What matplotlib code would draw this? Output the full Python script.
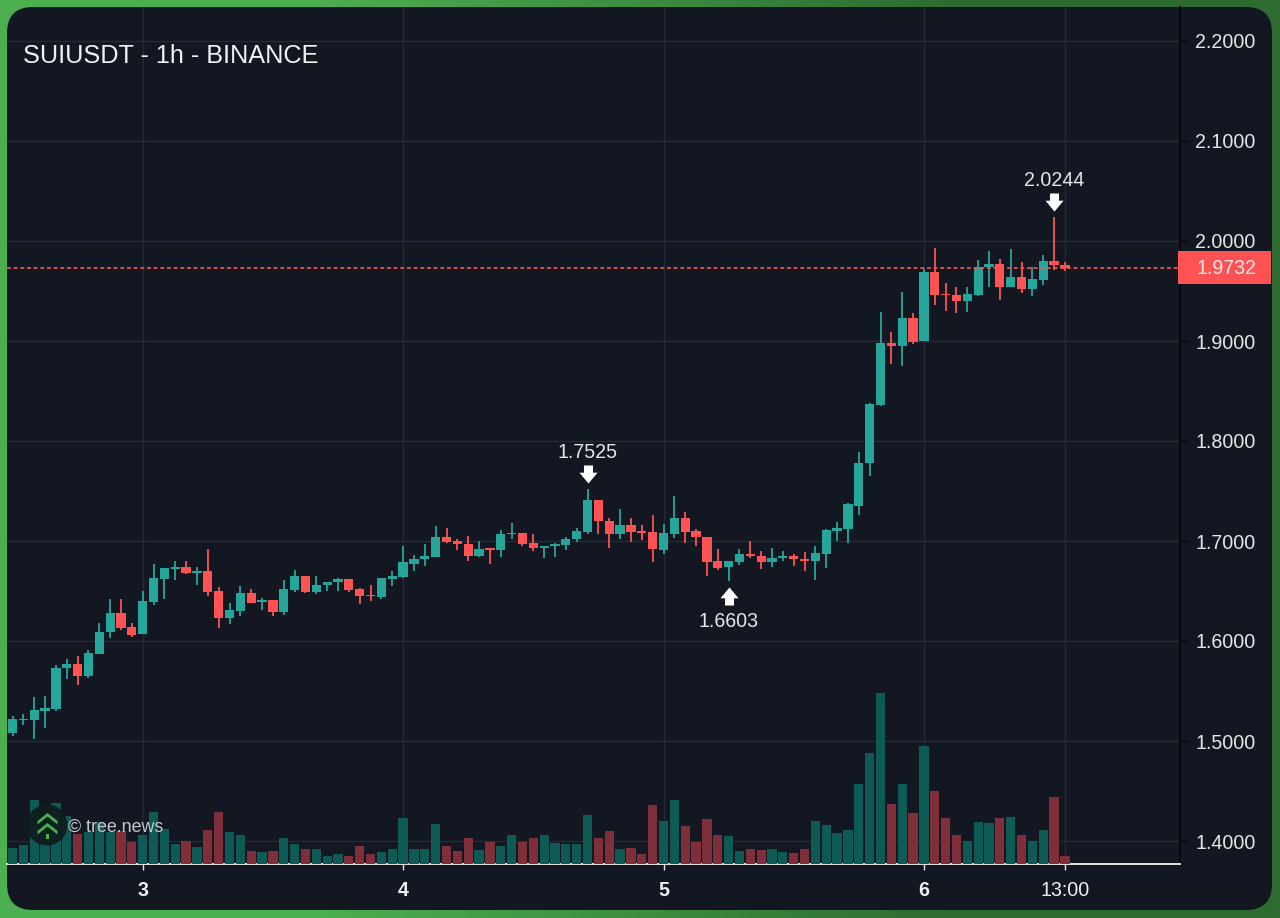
import matplotlib
matplotlib.use('Agg')
import matplotlib.pyplot as plt
from matplotlib.colors import LinearSegmentedColormap
from matplotlib.patches import FancyBboxPatch, Circle, Rectangle, Polygon
from matplotlib.path import Path
from matplotlib.transforms import offset_copy

plt.rcParams['font.family'] = ['Liberation Sans', 'DejaVu Sans']

title = 'SUIUSDT - 1h - BINANCE'
watermark = '\u00a9 tree.news'

opens = [1.5077, 1.5207, 1.5210, 1.5300, 1.5323, 1.5727, 1.5767, 1.5650, 1.5870, 1.6087,
         1.6277, 1.6140, 1.6067, 1.6393, 1.6617, 1.6717, 1.6743, 1.6683, 1.6697, 1.6500,
         1.6230, 1.6303, 1.6483, 1.6393, 1.6410, 1.6290, 1.6510, 1.6653, 1.6493, 1.6563,
         1.6587, 1.6617, 1.6520, 1.6460, 1.6443, 1.6617, 1.6643, 1.6773, 1.6820, 1.6843,
         1.7043, 1.7000, 1.6967, 1.6853, 1.6927, 1.6910, 1.7067, 1.7077, 1.6977, 1.6933,
         1.6950, 1.6960, 1.7017, 1.7087, 1.7413, 1.7203, 1.7070, 1.7160, 1.7100, 1.7087,
         1.6907, 1.7070, 1.7233, 1.7100, 1.7043, 1.6797, 1.6737, 1.6793, 1.6870, 1.6850,
         1.6793, 1.6833, 1.6853, 1.6817, 1.6800, 1.6873, 1.7100, 1.7117, 1.7353, 1.7777,
         1.8360, 1.8977, 1.8953, 1.9227, 1.9000, 1.9690, 1.9467, 1.9463, 1.9400, 1.9463,
         1.9737, 1.9767, 1.9543, 1.9643, 1.9520, 1.9613, 1.9800, 1.9760]
highs = [1.5250, 1.5267, 1.5443, 1.5450, 1.5757, 1.5817, 1.5850, 1.5910, 1.6177, 1.6417,
         1.6420, 1.6183, 1.6500, 1.6767, 1.6730, 1.6797, 1.6800, 1.6743, 1.6917, 1.6537,
         1.6383, 1.6550, 1.6520, 1.6433, 1.6410, 1.6610, 1.6710, 1.6653, 1.6653, 1.6587,
         1.6627, 1.6617, 1.6527, 1.6557, 1.6633, 1.6700, 1.6953, 1.6860, 1.6967, 1.7150,
         1.7127, 1.7017, 1.7050, 1.7000, 1.6933, 1.7110, 1.7177, 1.7077, 1.7070, 1.6950,
         1.6977, 1.7043, 1.7130, 1.7525, 1.7413, 1.7227, 1.7317, 1.7233, 1.7160, 1.7260,
         1.7170, 1.7450, 1.7287, 1.7117, 1.7043, 1.6917, 1.6800, 1.6917, 1.7003, 1.6900,
         1.6930, 1.6900, 1.6870, 1.6887, 1.6953, 1.7117, 1.7187, 1.7383, 1.7893, 1.8377,
         1.9290, 1.9087, 1.9490, 1.9277, 1.9717, 1.9933, 1.9583, 1.9543, 1.9543, 1.9810,
         1.9900, 1.9817, 1.9917, 1.9793, 1.9743, 1.9860, 2.0244, 1.9787]
lows = [1.5050, 1.5160, 1.5020, 1.5127, 1.5300, 1.5620, 1.5560, 1.5627, 1.5870, 1.6033,
        1.6110, 1.6037, 1.6067, 1.6357, 1.6420, 1.6610, 1.6667, 1.6563, 1.6453, 1.6127,
        1.6173, 1.6250, 1.6383, 1.6307, 1.6253, 1.6263, 1.6490, 1.6477, 1.6470, 1.6503,
        1.6503, 1.6493, 1.6367, 1.6403, 1.6423, 1.6553, 1.6627, 1.6703, 1.6753, 1.6837,
        1.6983, 1.6907, 1.6800, 1.6837, 1.6770, 1.6843, 1.7017, 1.6950, 1.6897, 1.6827,
        1.6843, 1.6910, 1.6993, 1.7067, 1.7067, 1.6927, 1.7020, 1.6987, 1.7013, 1.6790,
        1.6870, 1.7033, 1.6983, 1.6950, 1.6653, 1.6710, 1.6603, 1.6763, 1.6827, 1.6717,
        1.6743, 1.6803, 1.6750, 1.6697, 1.6613, 1.6733, 1.7003, 1.6977, 1.7260, 1.7650,
        1.8350, 1.8770, 1.8750, 1.8970, 1.8997, 1.9357, 1.9303, 1.9277, 1.9293, 1.9450,
        1.9537, 1.9410, 1.9543, 1.9483, 1.9453, 1.9563, 1.9710, 1.9703]
closes = [1.5217, 1.5223, 1.5307, 1.5333, 1.5733, 1.5770, 1.5653, 1.5877, 1.6090, 1.6277,
          1.6130, 1.6063, 1.6400, 1.6627, 1.6730, 1.6743, 1.6677, 1.6700, 1.6490, 1.6230,
          1.6310, 1.6483, 1.6383, 1.6410, 1.6290, 1.6517, 1.6653, 1.6493, 1.6563, 1.6587,
          1.6617, 1.6510, 1.6450, 1.6447, 1.6627, 1.6653, 1.6787, 1.6823, 1.6850, 1.7043,
          1.6993, 1.6967, 1.6853, 1.6923, 1.6910, 1.7070, 1.7083, 1.6970, 1.6933, 1.6950,
          1.6970, 1.7023, 1.7097, 1.7413, 1.7200, 1.7073, 1.7160, 1.7090, 1.7083, 1.6920,
          1.7077, 1.7233, 1.7087, 1.7037, 1.6793, 1.6733, 1.6800, 1.6870, 1.6847, 1.6793,
          1.6833, 1.6853, 1.6823, 1.6803, 1.6877, 1.7110, 1.7127, 1.7367, 1.7780, 1.8370,
          1.8977, 1.8950, 1.9230, 1.8993, 1.9690, 1.9457, 1.9457, 1.9400, 1.9473, 1.9737,
          1.9767, 1.9543, 1.9643, 1.9520, 1.9617, 1.9800, 1.9760, 1.9732]
volumes = [16, 19, 64, 45, 61, 48, 30, 32, 42, 32, 33, 22, 29, 52, 35, 20, 23, 17, 34, 52,
           32, 29, 13, 12, 13, 26, 20, 15, 15, 8, 10, 8, 18, 10, 12, 15, 46, 15, 15, 40,
           18, 13, 26, 14, 22, 18, 29, 22, 26, 29, 21, 20, 20, 49, 26, 33, 15, 16, 10, 59,
           43, 64, 38, 22, 45, 29, 28, 13, 15, 14, 15, 12, 11, 15, 43, 39, 31, 34, 80, 111,
           171, 60, 80, 51, 118, 73, 46, 29, 23, 42, 41, 46, 47, 29, 23, 34, 67, 8]

price_ticks = [2.2, 2.1, 2.0, 1.9, 1.8, 1.7, 1.6, 1.5, 1.4]
time_ticks = [12, 36, 60, 84, 97]
time_labels = ['3', '4', '5', '6', '13:00']
last_price = 1.9732
high_marks = [53, 96]
low_marks = [66]

GREEN = '#26a69a'
RED = '#ff5252'
VOL_GREEN = '#0e5a54'
VOL_RED = '#7f2f39'
PANEL = '#131722'
GRID = '#262a36'
TEXT = '#e6e6e6'

W, H = 1280, 918
fig = plt.figure(figsize=(W / 100, H / 100), dpi=100)


def px_axes(x0, y0, x1, y1):
    return fig.add_axes([x0 / W, 1 - y1 / H, (x1 - x0) / W, (y1 - y0) / H])


# page background and rounded panel
bg = fig.add_axes([0, 0, 1, 1], zorder=0)
cmap = LinearSegmentedColormap.from_list('edge', ['#4caf50', '#2e6b30'])
bg.imshow([[0, 1]], cmap=cmap, extent=(0, W, H, 0), aspect='auto', interpolation='bilinear')
bg.add_patch(FancyBboxPatch((7, 7), 1265, 903, boxstyle='round,pad=0,rounding_size=26',
                            fc=PANEL, ec='none'))
bg.set_xlim(0, W)
bg.set_ylim(H, 0)
bg.axis('off')

x_left = (7 - 12.5) / 10.85
x_right = (1180 - 12.5) / 10.85
idx = list(range(len(opens)))
up = [c >= o for o, c in zip(opens, closes)]
colors = [GREEN if u else RED for u in up]

ax = px_axes(7, 7, 1180, 864)
ax.set_zorder(1)
ax.patch.set_visible(False)
ax.vlines(idx, lows, highs, color=colors, lw=1.3, zorder=3)
ax.bar(idx, [max(abs(c - o), 0.0012) for o, c in zip(opens, closes)],
       bottom=[min(o, c) for o, c in zip(opens, closes)],
       width=0.85, color=colors, zorder=4)
ax.axhline(last_price, color=RED, lw=1.2, dashes=(2.3, 1.7), zorder=5)

ax.set_xlim(x_left, x_right)
ax.set_ylim(2.241 - 864 / 1000, 2.241 - 7 / 1000)
ax.grid(True, color=GRID, lw=1.0, zorder=1)
ax.set_axisbelow(True)
for s in ['top', 'left']:
    ax.spines[s].set_visible(False)
ax.spines['right'].set_color('#07080c')
ax.spines['right'].set_linewidth(1.4)
ax.spines['bottom'].set_color('#e4e4e4')
ax.spines['bottom'].set_linewidth(1.4)

ax.yaxis.tick_right()
ax.set_yticks(price_ticks)
ax.set_yticklabels(['%.4f' % p for p in price_ticks])
ax.tick_params(axis='y', colors='#07080c', labelcolor=TEXT, labelsize=14.1, length=5.5, width=1, pad=5.5)
ax.set_xticks(time_ticks)
ax.set_xticklabels(time_labels)
ax.tick_params(axis='x', colors='#e4e4e4', labelcolor='#f0f0f0', labelsize=14.1, length=4.5, width=1, pad=8)
for lab in ax.get_xticklabels()[:4]:
    lab.set_fontweight('bold')

# high / low arrows with their prices
arrow_down = Path([(-0.5, 1), (0.5, 1), (0.5, 0.2), (1, 0.2), (0, -1), (-1, 0.2), (-0.5, 0.2), (-0.5, 1)])
arrow_up = Path([(-0.5, -1), (0.5, -1), (0.5, -0.2), (1, -0.2), (0, 1), (-1, -0.2), (-0.5, -0.2), (-0.5, -1)])
above = offset_copy(ax.transData, fig=fig, y=15, units='dots')
below = offset_copy(ax.transData, fig=fig, y=-15, units='dots')
for i in high_marks:
    ax.plot(i, highs[i], marker=arrow_down, ms=13, color='white', mew=0, transform=above, zorder=6)
    ax.annotate('%.4f' % highs[i], (i, highs[i]), xytext=(0, 26), textcoords='offset points',
                ha='center', va='center', color=TEXT, fontsize=14.1, zorder=6)
for i in low_marks:
    ax.plot(i, lows[i], marker=arrow_up, ms=13, color='white', mew=0, transform=below, zorder=6)
    ax.annotate('%.4f' % lows[i], (i, lows[i]), xytext=(0, -29.5), textcoords='offset points',
                ha='center', va='center', color=TEXT, fontsize=14.1, zorder=6)

# volume goes over the grid, candles never reach it
vol = px_axes(7, 7, 1180, 864)
vol.set_zorder(2)
vol.patch.set_visible(False)
vol.bar(idx, volumes, width=0.85, color=[VOL_GREEN if u else VOL_RED for u in up])
vol.set_xlim(x_left, x_right)
vol.set_ylim(0, 857)
vol.axis('off')

# overlay in pixels: title, last price tag, logo
top = fig.add_axes([0, 0, 1, 1], zorder=3)
top.patch.set_visible(False)
top.set_xlim(0, W)
top.set_ylim(H, 0)
top.axis('off')
top.text(23, 56, title, color='#f2f2f2', fontsize=18.2, va='center', ha='left')
top.add_patch(Rectangle((1178, 251), 93, 33, fc=RED, ec='none'))
top.text(1226, 268, '%.4f' % last_price, color='#fbe9e9', fontsize=14.1, va='center', ha='center')
top.add_patch(Circle((47, 825), 20.5, fc='#0f1d1c', ec='none', alpha=0.93))
for y0 in [813, 823]:
    top.add_patch(Polygon([(37.5, y0 + 8), (47.5, y0), (57.5, y0 + 8), (57.5, y0 + 11.5), (47.5, y0 + 3.5), (37.5, y0 + 11.5)],
                          closed=True, fc='#4caf50', ec='none'))
top.add_patch(Rectangle((46, 834), 3, 5, fc='#4caf50', ec='none'))
top.text(68, 827.5, watermark, color='#c4c6c9', fontsize=12.9, va='center', ha='left')

fig.savefig('out.png', dpi=100)
